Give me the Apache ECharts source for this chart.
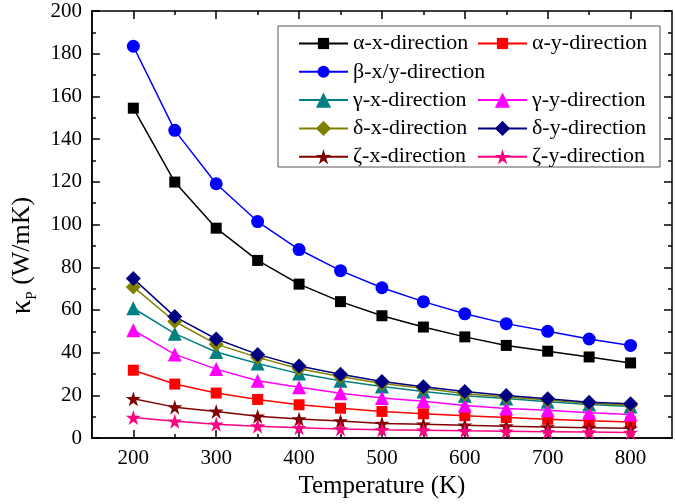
<!DOCTYPE html>
<html><head><meta charset="utf-8">
<script src="https://cdn.jsdelivr.net/npm/echarts@6/dist/echarts.min.js"></script>
<style>html,body{margin:0;padding:0;background:#fff}#c{width:675px;height:504px}</style>
</head><body><div id="c"></div>
<script>
const temperature = [200,250,300,350,400,450,500,550,600,650,700,750,800];
const alphaX = [154.5,119.9,98.3,83.2,72.1,63.9,57.3,52.0,47.4,43.4,40.7,38.0,35.2];
const alphaY = [31.8,25.3,21.1,18.1,15.6,14.0,12.5,11.4,10.5,9.6,8.8,8.1,7.5];
const betaXY = [183.5,144.1,119.1,101.4,88.3,78.4,70.4,63.9,58.2,53.6,50.0,46.4,43.4];
const gammaX = [60.8,48.9,40.3,34.9,30.2,26.9,24.2,21.8,19.8,18.5,17.0,15.7,14.8];
const gammaY = [50.5,39.2,32.3,26.9,23.8,21.0,18.8,17.3,15.3,13.9,13.0,11.9,11.0];
const deltaX = [70.8,54.6,44.0,37.8,32.5,28.8,25.6,23.3,20.8,19.3,17.8,16.3,15.4];
const deltaY = [74.7,56.9,46.4,39.2,33.8,29.9,26.5,24.1,21.8,19.9,18.4,16.8,16.1];
const zetaX = [18.4,14.5,12.5,10.2,8.9,8.0,6.8,6.5,6.0,5.6,5.2,4.9,4.6];
const zetaY = [9.6,7.9,6.5,5.6,4.8,4.3,3.9,3.7,3.4,3.2,3.0,2.8,2.6];
const xMajorTicks = [200,300,400,500,600,700,800];
const xMinorTicks = [250,350,450,550,650,750];
const seriesNames = ['α-x-direction','α-y-direction','β-x/y-direction','γ-x-direction','γ-y-direction','δ-x-direction','δ-y-direction','ζ-x-direction','ζ-y-direction'];

const FONT = "'Liberation Serif','Times New Roman',serif";
const STAR = 'path://M50,0 L61.2,34.5 L97.6,34.5 L68.2,55.9 L79.4,90.5 L50,69.1 L20.6,90.5 L31.8,55.9 L2.4,34.5 L38.8,34.5 Z';
const styles = [
  {data: alphaX, color:'#000000', symbol:'rect', size:11, leg:14},
  {data: alphaY, color:'#ff0000', symbol:'rect', size:11, leg:14},
  {data: betaXY, color:'#0000ff', symbol:'circle', size:13, leg:15},
  {data: gammaX, color:'#008080', symbol:'triangle', size:14, leg:19},
  {data: gammaY, color:'#ff00ff', symbol:'triangle', size:14, leg:19},
  {data: deltaX, color:'#808000', symbol:'diamond', size:15, leg:19},
  {data: deltaY, color:'#000080', symbol:'diamond', size:15, leg:19},
  {data: zetaX, color:'#800000', symbol:STAR, size:15, leg:19},
  {data: zetaY, color:'#ff0080', symbol:STAR, size:15, leg:19}
];
const series = styles.map((s,i)=>({
  name: seriesNames[i], type:'line', xAxisIndex:0, yAxisIndex:0,
  data: temperature.map((t,j)=>[t, s.data[j]]),
  symbol: s.symbol, symbolSize: s.size, showSymbol:true,
  lineStyle:{color:s.color, width:1.5}, itemStyle:{color:s.color},
  emphasis:{disabled:true}, animation:false
}));
// legend slots: [col, row]
const slots = [[0,0],[1,0],[0,1],[0,2],[1,2],[0,3],[1,3],[0,4],[1,4]];
const colLeft = [298, 477];
const legends = seriesNames.map((n,i)=>({
  data:[n], left: colLeft[slots[i][0]], top: 32 + slots[i][1]*28.3,
  orient:'horizontal', padding:0, itemWidth:49, itemHeight:styles[i].leg, itemGap:0,
  textStyle:{fontFamily:FONT, fontSize:22, color:'#000', lineHeight:23},
  selectedMode:false, z:5
}));

const baseX = {type:'value', min:150, max:850, splitLine:{show:false}, gridIndex:0};
const chart = echarts.init(document.getElementById('c'));
chart.setOption({
  animation:false,
  backgroundColor:'#fff',
  grid:{left:74, right:3, top:11, bottom:61, show:true, borderColor:'#000', borderWidth:1.5, containLabel:false},
  legend: legends,
  graphic:[{type:'rect', shape:{x:278, y:26, width:382, height:141}, style:{fill:'#fff', stroke:'#555', lineWidth:1}, z:4}],
  xAxis:[
    Object.assign({}, baseX, {position:'bottom',
      axisLine:{show:true, onZero:false, lineStyle:{color:'#000', width:1.5}},
      axisTick:{show:true, inside:true, length:8, customValues:xMajorTicks, lineStyle:{color:'#000', width:1.5}},
      axisLabel:{show:true, customValues:xMajorTicks, margin:10, fontFamily:FONT, fontSize:21, color:'#000'},
      name:'Temperature (K)', nameLocation:'middle', nameGap:34,
      nameTextStyle:{fontFamily:FONT, fontSize:25, color:'#000'}}),
    Object.assign({}, baseX, {position:'bottom', axisLine:{show:false, onZero:false},
      axisTick:{show:true, inside:true, length:4, customValues:xMinorTicks, lineStyle:{color:'#000', width:1.5}},
      axisLabel:{show:false}}),
    Object.assign({}, baseX, {position:'top', axisLine:{show:false, onZero:false},
      axisTick:{show:true, inside:true, length:8, customValues:xMajorTicks, lineStyle:{color:'#000', width:1.5}},
      axisLabel:{show:false}}),
    Object.assign({}, baseX, {position:'top', axisLine:{show:false, onZero:false},
      axisTick:{show:true, inside:true, length:4, customValues:xMinorTicks, lineStyle:{color:'#000', width:1.5}},
      axisLabel:{show:false}})
  ],
  yAxis:[
    {type:'value', min:0, max:200, interval:20, position:'left', splitLine:{show:false},
      axisLine:{show:true, onZero:false, lineStyle:{color:'#000', width:1.5}},
      axisTick:{show:true, inside:true, length:8, lineStyle:{color:'#000', width:1.5}},
      minorTick:{show:true, splitNumber:2, length:4, lineStyle:{color:'#000', width:1.5}},
      axisLabel:{margin:10, fontFamily:FONT, fontSize:21, color:'#000'},
      name:'{k|κ}{s|P}{t| (W/mK)}', nameLocation:'middle', nameGap:38, nameRotate:90,
      nameTextStyle:{fontFamily:FONT, color:'#000', padding:[0,62,0,0],
        rich:{k:{fontFamily:FONT, fontSize:29, color:'#000', lineHeight:34, verticalAlign:'middle'},
              s:{fontFamily:FONT, fontSize:15, color:'#000', lineHeight:34, verticalAlign:'bottom'},
              t:{fontFamily:FONT, fontSize:26, color:'#000', lineHeight:34, verticalAlign:'middle'}}}},
    {type:'value', min:0, max:200, interval:20, position:'right', splitLine:{show:false},
      axisLine:{show:false, onZero:false},
      axisTick:{show:true, inside:true, length:8, lineStyle:{color:'#000', width:1.5}},
      minorTick:{show:true, splitNumber:2, length:4, lineStyle:{color:'#000', width:1.5}},
      axisLabel:{show:false}}
  ],
  series: series
});
</script></body></html>
